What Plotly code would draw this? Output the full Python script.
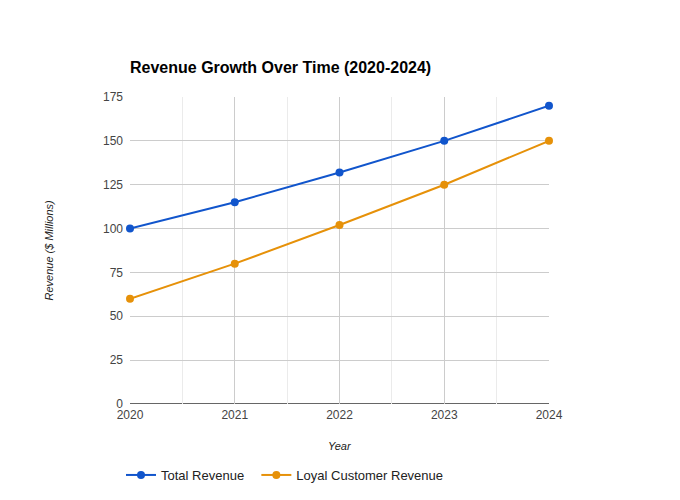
import plotly.graph_objects as go

years = [2020, 2021, 2022, 2023, 2024]
total_revenue = [100, 115, 132, 150, 170]
loyal_revenue = [60, 80, 102, 125, 150]

BLUE = "#1155cc"
ORANGE = "#e69109"
FONT = "Liberation Sans, Arial, sans-serif"

fig = go.Figure()
fig.add_trace(go.Scatter(x=years, y=total_revenue, name="Total Revenue\u00a0\u00a0",
                         mode="lines+markers", line=dict(color=BLUE, width=2),
                         marker=dict(size=8, color=BLUE), cliponaxis=False))
fig.add_trace(go.Scatter(x=years, y=loyal_revenue, name="Loyal Customer Revenue",
                         mode="lines+markers", line=dict(color=ORANGE, width=2),
                         marker=dict(size=8, color=ORANGE), cliponaxis=False))

# page body has an 8px margin, so figure coords = page coords - 8
W, H = 672, 492
L, T = 122, 89
R = W - 541
B = H - 396
ph = H - T - B
pw = W - L - R

fig.update_layout(
    width=W, height=H,
    margin=dict(l=L, r=R, t=T, b=B, autoexpand=False),
    paper_bgcolor="white", plot_bgcolor="white",
    font=dict(family=FONT, size=12, color="#444"),
    title=dict(text="<b>Revenue Growth Over Time (2020-2024)</b>",
               x=L / W, xanchor="left", y=1 - 59 / H, yanchor="middle",
               font=dict(size=16, color="#000", family=FONT)),
    showlegend=True,
    legend=dict(orientation="h", x=-9 / pw, xanchor="left", y=-71 / ph, yanchor="middle",
                font=dict(size=13, color="#222"),
                bgcolor="rgba(0,0,0,0)"),
    xaxis=dict(range=[2020, 2024], tickmode="array", tickvals=years,
               ticktext=[str(y) for y in years],
               showgrid=True, gridcolor="#cccccc", gridwidth=1,
               minor=dict(dtick=0.5, tick0=2020, showgrid=True, gridcolor="#ebebeb", gridwidth=1),
               zeroline=False, showline=False, ticks="", ticklabelstandoff=2,
               tickfont=dict(size=12, color="#444")),
    yaxis=dict(range=[0, 175], tick0=0, dtick=25,
               showgrid=True, gridcolor="#cccccc", gridwidth=1,
               zeroline=False, showline=False, ticks="", ticklabelstandoff=6,
               tickfont=dict(size=12, color="#444")),
    shapes=[dict(type="line", xref="paper", yref="y", x0=0, x1=1, y0=0, y1=0,
                 line=dict(color="#333333", width=1.5), layer="below")],
    annotations=[
        dict(text="<i>Revenue ($ Millions)</i>", xref="paper", yref="paper",
             x=-(L - 40) / pw, y=0.5, xanchor="center", yanchor="middle",
             textangle=-90, showarrow=False, font=dict(size=11, color="#222", family=FONT)),
        dict(text="<i>Year</i>", xref="paper", yref="paper",
             x=0.5, y=-(438 - (H - B)) / ph, xanchor="center", yanchor="middle",
             showarrow=False, font=dict(size=11, color="#222", family=FONT)),
    ],
)

fig.write_html("out.html")
